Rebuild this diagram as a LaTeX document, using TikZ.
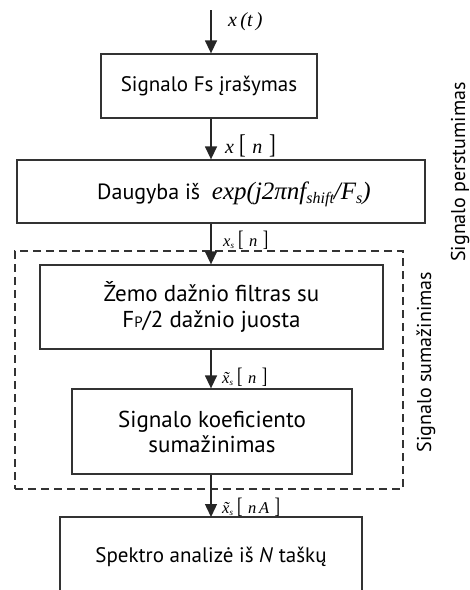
\documentclass[tikz,border=0pt]{standalone}
\usepackage{fontspec}
\usepackage{graphicx}
\setmainfont{PT Sans}
\newfontfamily\tm{Liberation Serif}
\usetikzlibrary{arrows.meta}
\newcommand{\sbs}[2]{\raisebox{-0.35ex}{\fontsize{#1}{#1}\selectfont #2}}
\newcommand{\brk}[1]{{\upshape\scalebox{1}[1.35]{[}}\,\,#1\,\,{\upshape\scalebox{1}[1.35]{]}}}
\begin{document}
\begin{tikzpicture}[x=1pt,y=-1pt,
  blk/.style={draw=black!80,line width=1.3pt,inner sep=0pt,align=center},
  txt/.style={inner sep=0pt,align=center},
  arr/.style={draw=black!85,line width=1.4pt,-{Triangle[width=12pt,length=13pt]}},
  lbl/.style={anchor=west,inner sep=0pt,font=\tm\itshape\fontsize{20}{22}\selectfont},
  slbl/.style={anchor=west,inner sep=0pt,font=\tm\itshape\fontsize{16.5}{18}\selectfont},
  dbox/.style={draw=black!80,line width=1.2pt,dash pattern=on 8pt off 5pt},
  side/.style={inner sep=0pt,rotate=90,font=\fontsize{20}{24}\selectfont}]
\useasboundingbox (0,0) rectangle (470,590);
\clip (0,0) rectangle (470,590);
\coordinate (ax) at (211,0);
\coordinate (start) at (211,10);
\node[blk,minimum width=216pt,minimum height=64pt,font=\fontsize{21}{25}\selectfont] (b1) at (209,86) {Signalo Fs įrašymas};
\node[blk,minimum width=408pt,minimum height=63pt] (b2) at (221,191.5) {};
\node[txt,anchor=base west,font=\fontsize{22}{25}\selectfont] (t2) at (97,199)
  {Daugyba iš \ {\tm\itshape\fontsize{25}{28}\selectfont exp(j2πnf\sbs{16}{shift}/F\sbs{16}{s})}};
\node[dbox,minimum width=388pt,minimum height=238pt,inner sep=0pt] (dz) at (209,370) {};
\node[blk,minimum width=343pt,minimum height=84pt,font=\fontsize{23}{26}\selectfont] (b3) at (211.5,307)
  {Žemo dažnio filtras su\\F{\fontsize{15}{15}\selectfont P}/2 dažnio juosta};
\node[blk,minimum width=280pt,minimum height=85pt,font=\fontsize{23}{25}\selectfont] (b4) at (212,431.5)
  {Signalo koeficiento\\sumažinimas};
\coordinate (b5nw) at (60,517);
\coordinate (b5ne) at (362,517);
\draw[draw=black!80,line width=1.3pt] (60,600) -- (b5nw) -- (b5ne) -- (362,600);
\node[txt,font=\fontsize{21}{25}\selectfont] (b5) at (211,557) {Spektro analizė iš \textit{N} taškų};
\draw[arr] (start) -- (b1.north -| ax);
\draw[arr] (b1.south -| ax) -- (b2.north -| ax);
\draw[arr] (b2.south -| ax) -- (b3.north -| ax);
\draw[arr] (b3.south -| ax) -- (b4.north -| ax);
\draw[arr] (b4.south -| ax) -- (b5nw -| ax);
\node[lbl] (l1) at (228,22) {x\,(t\,)};
\node[lbl] (l2) at (225,146) {x\ \brk{n}};
\node[slbl] (l3) at (223,240) {x\sbs{9}{s}\ \brk{n}};
\node[slbl] (l4) at (222,377) {\~{x}\sbs{9}{s}\ \brk{n}};
\node[slbl] (l5) at (222,507) {\~{x}\sbs{9}{s}\ \brk{n\,A}};
\node[side] (s1) at (460,172) {Signalo perstumimas};
\node[side] (s2) at (426,362) {Signalo sumažinimas};
\end{tikzpicture}
\end{document}
